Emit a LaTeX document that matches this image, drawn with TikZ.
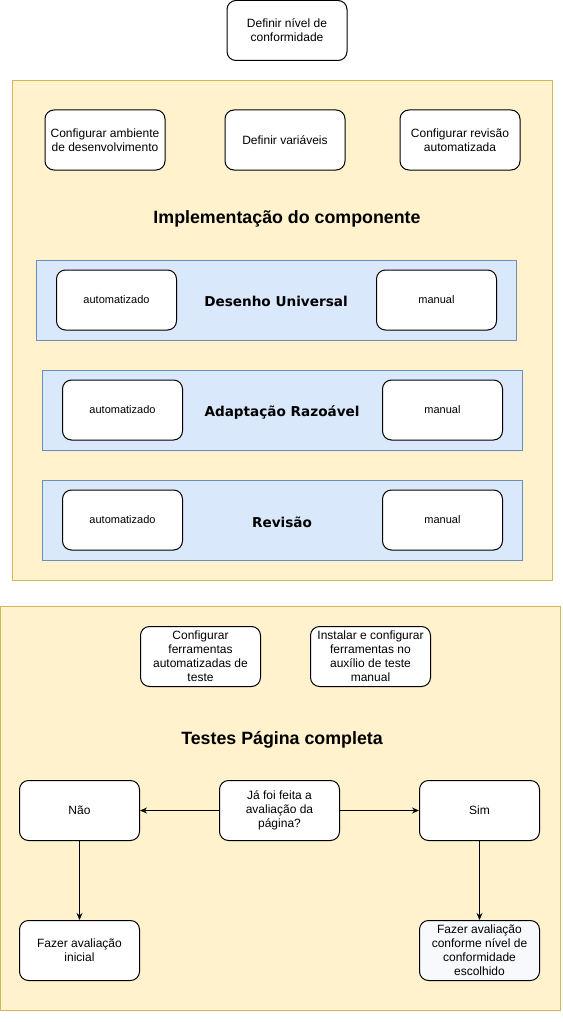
\documentclass[tikz,border=0pt]{standalone}
\usepackage{fontspec}
\setmainfont{Liberation Sans}
\newfontfamily\verd{DejaVu Sans}
\usetikzlibrary{arrows.meta}
\definecolor{yfill}{HTML}{FFF2CC}
\definecolor{ydraw}{HTML}{D6B656}
\definecolor{bfill}{HTML}{DAE8FC}
\definecolor{bdraw}{HTML}{6C8EBF}
\definecolor{lightfill}{HTML}{F8F9FC}
\begin{document}
\begin{tikzpicture}[x=1pt,y=-1pt,
  box/.style={draw=black,fill=white,line width=1pt,rounded corners=9pt,
    minimum width=120pt,minimum height=60pt,inner sep=0pt,align=center,
    font=\fontsize{12}{14}\selectfont},
  smallbox/.style={box,font=\fontsize{11}{13}\selectfont},
  ycont/.style={draw=ydraw,fill=yfill,line width=1pt},
  bcont/.style={draw=bdraw,fill=bfill,line width=1pt},
  bigtitle/.style={font=\fontsize{17.8}{21}\selectfont\bfseries,inner sep=0pt},
  subtitle/.style={font=\verd\fontsize{13.6}{16}\selectfont\bfseries,inner sep=0pt},
  arr/.style={draw=black,line width=1pt,-{Stealth[length=7pt,width=6pt]}}
]
\useasboundingbox (0,0) rectangle (562,1022);
\fill[white] (0,0) rectangle (562,1022);

\node[box] (nivel) at (287,30.5) {Definir nível de\\conformidade};

% container 1
\path[ycont] (12.5,80.5) rectangle (552.5,580.5);
\node[box] (amb) at (105,140) {Configurar ambiente\\de desenvolvimento};
\node[box] (var) at (285,140) {Definir variáveis};
\node[box] (rev) at (460,140) {Configurar revisão\\automatizada};
\node[bigtitle] (impl) at (287,219) {Implementação do componente};

\path[bcont] (36.5,260.5) rectangle (516.5,340.5);
\node[smallbox] (du1) at (116.5,300) {automatizado};
\node[smallbox] (du2) at (436.5,300) {manual};
\node[subtitle] (du) at (276,301) {Desenho Universal};

\path[bcont] (42.5,370.5) rectangle (522.5,450.5);
\node[smallbox] (ar1) at (122.5,410) {automatizado};
\node[smallbox] (ar2) at (442.5,410) {manual};
\node[subtitle] (ar) at (282,412) {Adaptação Razoável};

\path[bcont] (42.5,480.5) rectangle (522.5,560.5);
\node[smallbox] (rv1) at (122.5,520) {automatizado};
\node[smallbox] (rv2) at (442.5,520) {manual};
\node[subtitle] (rv) at (282,522) {Revisão};

% container 2
\path[ycont] (0.5,606.5) rectangle (560.5,1010.5);
\node[box] (ferr) at (200.5,656.5) {Configurar\\ferramentas\\automatizadas de\\teste};
\node[box] (inst) at (370.5,656.5) {Instalar e configurar\\ferramentas no\\auxílio de teste\\manual};
\node[bigtitle] (testes) at (282,740) {Testes Página completa};

\node[box] (nao) at (79.5,810.5) {Não};
\node[box] (ja) at (279.5,810.5) {Já foi feita a\\avaliação da\\página?};
\node[box] (sim) at (479.5,810.5) {Sim};
\node[box] (ini) at (79.5,950.5) {Fazer avaliação\\inicial};
\node[box,fill=lightfill] (conf) at (479.5,950.5) {Fazer avaliação\\conforme nível de\\conformidade\\escolhido};

\draw[arr] (ja) -- (nao);
\draw[arr] (ja) -- (sim);
\draw[arr] (nao) -- (ini);
\draw[arr] (sim) -- (conf);
\end{tikzpicture}
\end{document}
